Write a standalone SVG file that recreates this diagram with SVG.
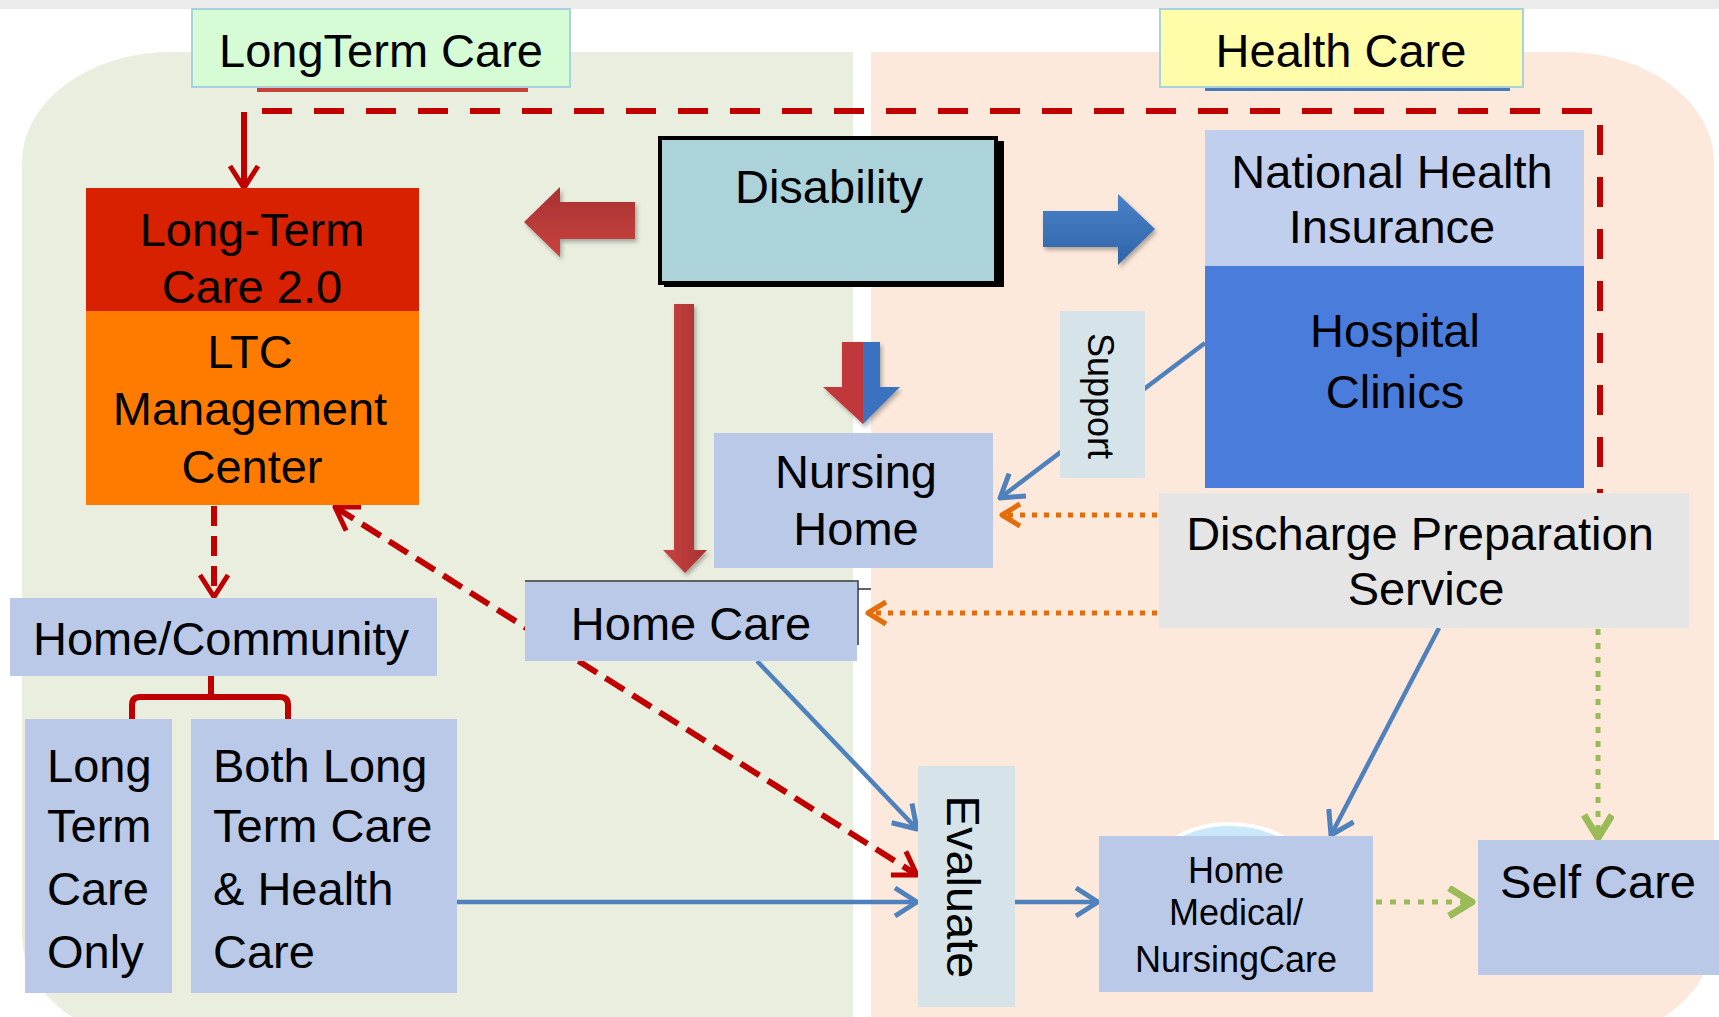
<svg xmlns="http://www.w3.org/2000/svg" width="1719" height="1017" viewBox="0 0 1719 1017">
<style>
.t{font-family:"Liberation Sans",Arial,sans-serif;fill:#000;font-size:47px}
.tm{text-anchor:middle}
.s{font-size:36px}
.box{fill:#b9c9e7}
.pale{fill:#d6e4e9}
.red{fill:none;stroke:#c00000;stroke-width:6}
.blue{fill:none;stroke:#4f81bd;stroke-width:4.5}
.org{fill:none;stroke:#e46c0a;stroke-width:5;stroke-dasharray:5 7}
.grn{fill:none;stroke:#9bbb59;stroke-width:5;stroke-dasharray:6 8}
</style>
<defs>
<marker id="mR" markerUnits="userSpaceOnUse" markerWidth="40" markerHeight="40" refX="24" refY="16" orient="auto-start-reverse"><path d="M2,2 L24,16 L2,30" fill="none" stroke="#c00000" stroke-width="5" stroke-dasharray="none" stroke-linejoin="round"/></marker>
<marker id="mB" markerUnits="userSpaceOnUse" markerWidth="40" markerHeight="40" refX="24" refY="16" orient="auto"><path d="M2,2 L24,16 L2,30" fill="none" stroke="#4f81bd" stroke-width="5" stroke-linejoin="round"/></marker>
<marker id="mO" markerUnits="userSpaceOnUse" markerWidth="40" markerHeight="40" refX="22" refY="14" orient="auto"><path d="M4,3 L22,14 L4,25" fill="none" stroke="#e46c0a" stroke-width="5" stroke-linejoin="round"/></marker>
<marker id="mG" markerUnits="userSpaceOnUse" markerWidth="40" markerHeight="40" refX="26" refY="16" orient="auto"><path d="M3,2 L26,16 L3,30" fill="none" stroke="#9bbb59" stroke-width="7" stroke-linejoin="round"/></marker>
<linearGradient id="gR" x1="0" y1="0" x2="0" y2="1"><stop offset="0" stop-color="#a83232"/><stop offset="1" stop-color="#c8433f"/></linearGradient>
<linearGradient id="gRv" x1="0" y1="0" x2="1" y2="0"><stop offset="0" stop-color="#c8433f"/><stop offset="1" stop-color="#a83232"/></linearGradient>
<linearGradient id="gB" x1="0" y1="0" x2="0" y2="1"><stop offset="0" stop-color="#4a82c8"/><stop offset="1" stop-color="#2f64a8"/></linearGradient>
<filter id="sh" x="-20%" y="-20%" width="150%" height="150%"><feDropShadow dx="2" dy="3" stdDeviation="2" flood-color="#000" flood-opacity="0.3"/></filter>
</defs>

<!-- background -->
<rect x="0" y="0" width="1719" height="1017" fill="#ffffff"/>
<rect x="0" y="0" width="1719" height="9" fill="#ebebeb"/>
<path d="M853,52 H172 A150,110 0 0 0 22,162 V935 A150,110 0 0 0 172,1045 H853 Z" fill="#eaeedf"/>
<path d="M871,52 H1564 A150,110 0 0 1 1714,162 V935 A150,110 0 0 1 1564,1045 H871 Z" fill="#fde9db"/>
<rect x="257" y="86" width="271" height="6" fill="#c8403a"/>
<rect x="1205" y="86" width="305" height="5" fill="#4a7ab8"/>
<ellipse cx="1230" cy="880" rx="82" ry="56" fill="#c9e9f8" stroke="#ffffff" stroke-width="4"/>

<g id="connectors">
<path class="red" d="M262,111 H1600 V494" stroke-dasharray="30 22"/>
<path class="red" d="M244,112 V188" marker-end="url(#mR)"/>
<path class="red" d="M214,506 V597" stroke-dasharray="20 10" marker-end="url(#mR)"/>
<path class="red" stroke-width="5" d="M211,676 V697 M132,719 V705 Q132,697 140,697 H280 Q288,697 288,705 V719"/>
<path class="red" d="M335,507 L917,875" stroke-dasharray="22 10" marker-start="url(#mR)" marker-end="url(#mR)"/>
<path class="blue" d="M1205,343 L1000,498" marker-end="url(#mB)"/>
<path class="org" d="M1157,515 H1002" marker-end="url(#mO)"/>
<path class="org" d="M1157,613 H868" marker-end="url(#mO)"/>
<path class="blue" d="M757,661 L917,829" marker-end="url(#mB)"/>
<path class="blue" d="M457,902 H917" marker-end="url(#mB)"/>
<path class="blue" d="M1015,902 H1098" marker-end="url(#mB)"/>
<path class="blue" d="M1439,628 L1331,835" marker-end="url(#mB)"/>
<path class="grn" d="M1598,629 V838" marker-end="url(#mG)"/>
<path class="grn" stroke-width="6" d="M1376,902 H1472" marker-end="url(#mG)"/>
<g filter="url(#sh)">
<polygon points="524,222 560,187 560,202 635,202 635,239 560,239 560,257" fill="url(#gR)"/>
<polygon points="1155,229 1118,194 1118,211 1043,211 1043,247 1118,247 1118,265" fill="url(#gB)"/>
<polygon points="674,304 694,304 694,550 707,550 685,573 663,550 674,550" fill="url(#gRv)"/>
<polygon points="842,342 863,342 863,424 823,387 842,387" fill="#c0393b"/>
<polygon points="863,342 880,342 880,387 900,387 863,424" fill="#3a72c0"/>
</g>
</g>

<g id="label-longterm">
<rect x="192" y="9" width="378" height="78" fill="#d5fcd5" stroke="#a9d2dc" stroke-width="2"/>
<text class="t tm" x="381" y="67">LongTerm Care</text>
</g>
<g id="label-health">
<rect x="1160" y="9" width="363" height="78" fill="#fffcaa" stroke="#a9d2dc" stroke-width="2"/>
<text class="t tm" x="1341" y="67">Health Care</text>
</g>
<g id="ltc20">
<rect x="86" y="188" width="333" height="123" fill="#d72100"/>
<text class="t tm" x="252" y="246">Long-Term</text>
<text class="t tm" x="252" y="303">Care 2.0</text>
</g>
<g id="ltc-mgmt">
<rect x="86" y="311" width="333" height="194" fill="#ff7b00"/>
<text class="t tm" x="250" y="368">LTC</text>
<text class="t tm" x="250" y="425">Management</text>
<text class="t tm" x="252" y="483">Center</text>
</g>
<g id="disability">
<rect x="664" y="141" width="340" height="146" fill="#000"/>
<rect x="660" y="138" width="336" height="145" fill="#acd3da" stroke="#000" stroke-width="4"/>
<text class="t tm" x="829" y="203">Disability</text>
</g>
<g id="nhi">
<rect x="1205" y="130" width="379" height="136" fill="#c1cfef"/>
<text class="t tm" x="1392" y="188">National Health</text>
<text class="t tm" x="1392" y="243">Insurance</text>
</g>
<g id="hospital">
<rect x="1205" y="266" width="379" height="222" fill="#4a7cdb"/>
<text class="t tm" x="1395" y="347">Hospital</text>
<text class="t tm" x="1395" y="408">Clinics</text>
</g>
<g id="support">
<rect x="1060" y="311" width="85" height="167" class="pale"/>
<text class="t tm s" transform="translate(1088,396) rotate(90)">Support</text>
</g>
<g id="nursing-home">
<rect x="714" y="433" width="279" height="135" class="box"/>
<text class="t tm" x="856" y="488">Nursing</text>
<text class="t tm" x="856" y="545">Home</text>
</g>
<g id="discharge">
<rect x="1159" y="493" width="530" height="135" fill="#e5e5e5"/>
<text class="t tm" x="1420" y="550">Discharge Preparation</text>
<text class="t tm" x="1426" y="605">Service</text>
</g>
<g id="home-care">
<path d="M525,581 H858 V645 M858,589 H871" fill="none" stroke="#333" stroke-width="1.5"/>
<rect x="525" y="582" width="332" height="79" class="box"/>
<text class="t tm" x="691" y="640">Home Care</text>
</g>
<g id="home-community">
<rect x="10" y="598" width="427" height="78" class="box"/>
<text class="t tm" x="221" y="655">Home/Community</text>
</g>
<g id="ltc-only">
<rect x="25" y="719" width="147" height="274" class="box"/>
<text class="t" x="47" y="782">Long</text>
<text class="t" x="47" y="842">Term</text>
<text class="t" x="47" y="905">Care</text>
<text class="t" x="47" y="968">Only</text>
</g>
<g id="both">
<rect x="191" y="719" width="266" height="274" class="box"/>
<text class="t" x="213" y="782">Both Long</text>
<text class="t" x="213" y="842">Term Care</text>
<text class="t" x="213" y="905">&amp; Health</text>
<text class="t" x="213" y="968">Care</text>
</g>
<g id="evaluate">
<rect x="918" y="766" width="97" height="241" class="pale"/>
<text class="t tm" transform="translate(947,887) rotate(90)">Evaluate</text>
</g>
<g id="home-medical">
<rect x="1099" y="836" width="274" height="156" class="box"/>
<text class="t tm s" x="1236" y="883">Home</text>
<text class="t tm s" x="1236" y="925">Medical/</text>
<text class="t tm s" x="1236" y="972">NursingCare</text>
</g>
<g id="self-care">
<rect x="1478" y="840" width="241" height="135" class="box"/>
<text class="t tm" x="1598" y="898">Self Care</text>
</g>
</svg>
